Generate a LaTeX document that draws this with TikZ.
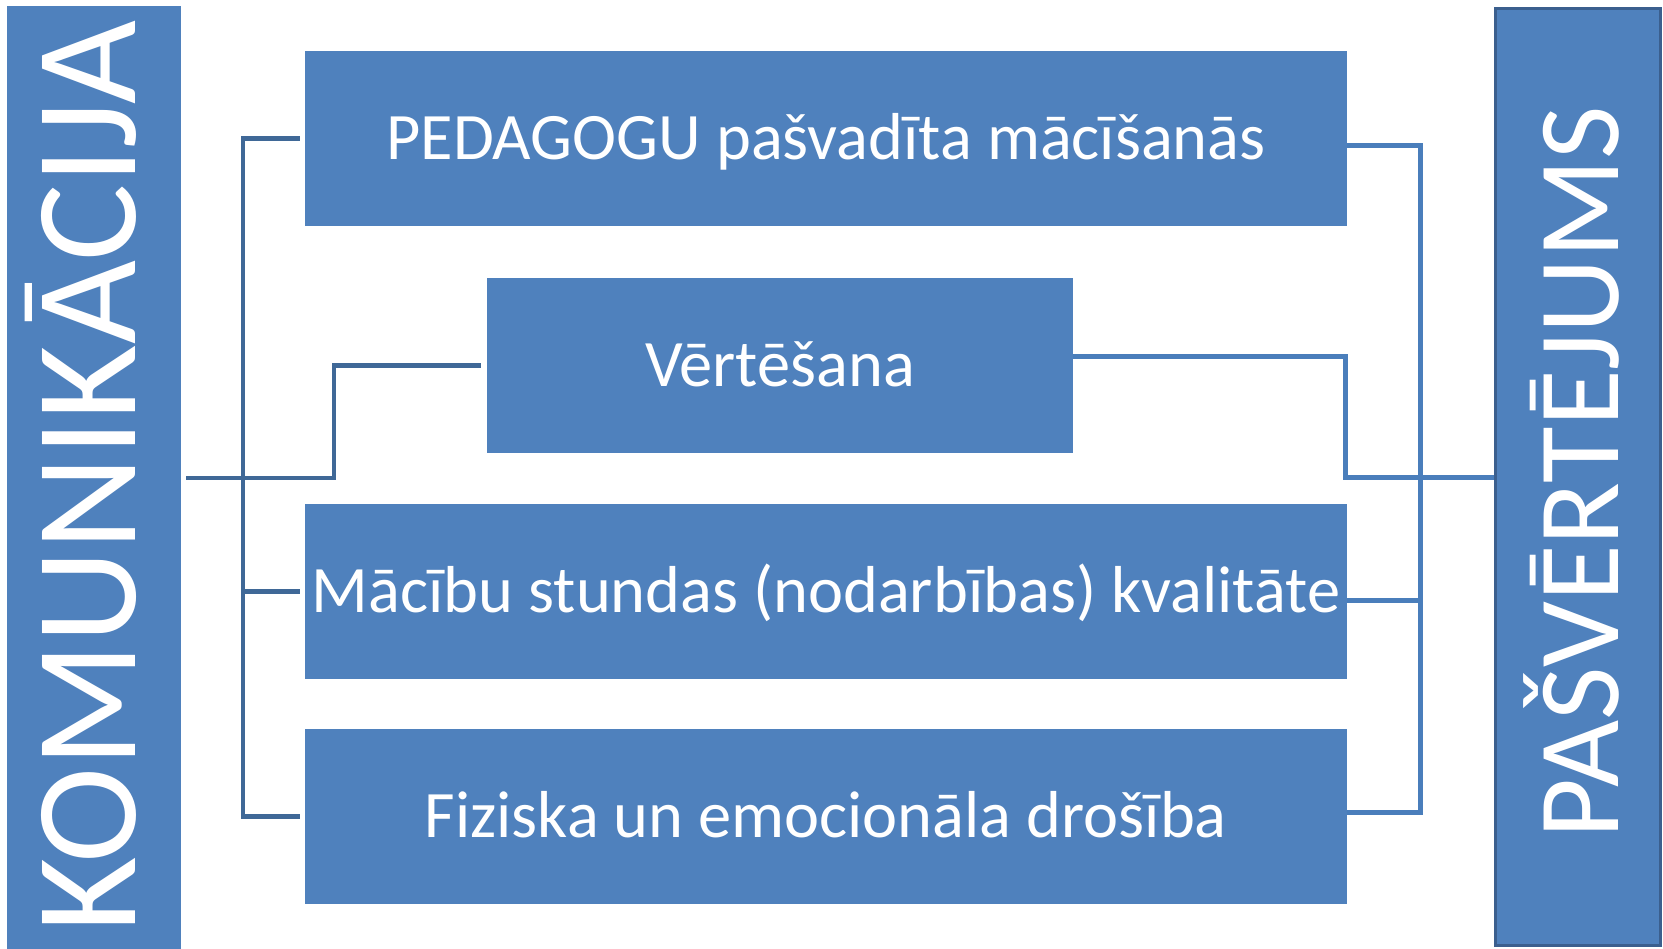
\documentclass[tikz,border=0pt]{standalone}
\usepackage{fontspec}
\setmainfont{Carlito}
\definecolor{boxblue}{HTML}{4F81BD}
\definecolor{darkline}{HTML}{3F6897}
\definecolor{rline}{HTML}{4A7EBB}
\definecolor{rborder}{HTML}{3B5F8E}
\begin{document}
\begin{tikzpicture}[x=1pt,y=-1pt,
  box/.style={fill=boxblue, draw=none, inner sep=0pt, text=white,
    font=\fontsize{66.4}{70}\selectfont, text height=42pt, text depth=0pt},
  lconn/.style={draw=darkline, line width=4.5pt},
  rconn/.style={draw=rline, line width=5pt},
  vtext/.style={text=white, rotate=90, anchor=base, inner sep=0pt}]
\useasboundingbox (0,0) rectangle (1663,948);
\node[box, minimum width=174pt, minimum height=944pt] (kom) at (94,478) {};
\node[vtext, font=\fontsize{145}{150}\selectfont] (komt) at (135,476.5) {KOMUNIKĀCIJA};
\node[box, draw=rborder, line width=3pt, minimum width=165pt, minimum height=937pt] (pas) at (1578,477) {};
\node[vtext, font=\fontsize{116}{120}\selectfont] (past) at (1618,472.5) {PAŠVĒRTĒJUMS};
\node[box, minimum width=1042pt, minimum height=175pt] (b1) at (826,138.5) {PEDAGOGU pašvadīta mācīšanās};
\node[box, minimum width=586pt, minimum height=175pt] (b2) at (780,365.5) {Vērtēšana};
\node[box, minimum width=1042pt, minimum height=175pt] (b3) at (826,591.5) {Mācību stundas (nodarbības) kvalitāte};
\node[box, minimum width=1042pt, minimum height=175pt] (b4) at (826,816.5) {Fiziska un emocionāla drošība};
% left connectors
\draw[lconn] ([xshift=5pt]kom.east) -| ([xshift=-153pt]b2.west) -- ([xshift=-6pt]b2.west);
\draw[lconn] ([xshift=-5pt]b1.west) -| ([xshift=-62pt]b4.west) -- ([xshift=-5pt]b4.west);
\draw[lconn] ([xshift=-5pt]b3.west) -- ([xshift=-62pt]b3.west);
% right connectors
\draw[rconn] ([yshift=-6.5pt]b1.east) -| ([xshift=73pt,yshift=4.5pt]b4.east) -- ([yshift=4.5pt]b4.east);
\draw[rconn] ([yshift=-8.5pt]b3.east) -- ([xshift=73pt,yshift=-8.5pt]b3.east);
\draw[rconn] ([yshift=9pt]b2.east) -| ([xshift=-149pt]pas.west) -- (pas.west);
\end{tikzpicture}
\end{document}
